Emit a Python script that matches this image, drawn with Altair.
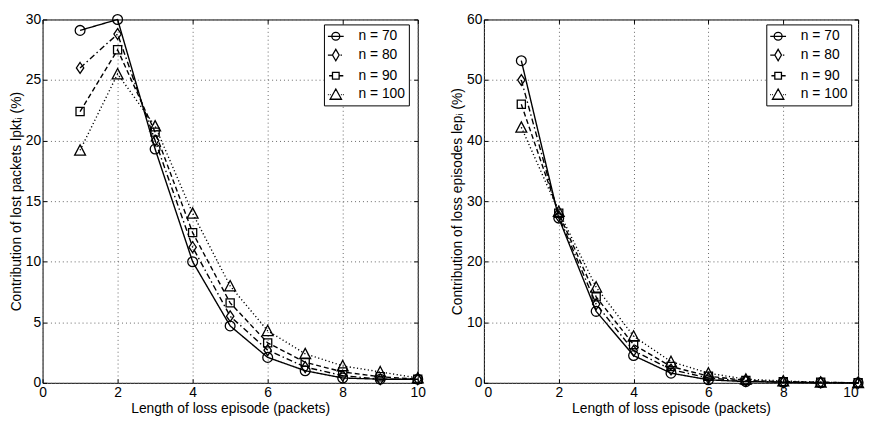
import altair as alt
import pandas as pd

# ---------------- data ----------------
episode_len = [1, 2, 3, 4, 5, 6, 7, 8, 9, 10]
series_labels = ["n = 70", "n = 80", "n = 90", "n = 100"]

lpkt_n70 = [29.1, 30.0, 19.3, 10.0, 4.7, 2.1, 1.0, 0.4, 0.3, 0.3]
lpkt_n80 = [26.0, 28.8, 20.0, 11.2, 5.5, 2.7, 1.3, 0.6, 0.3, 0.3]
lpkt_n90 = [22.4, 27.5, 20.7, 12.4, 6.6, 3.3, 1.7, 0.9, 0.5, 0.3]
lpkt_n100 = [19.2, 25.5, 21.2, 14.0, 8.0, 4.3, 2.4, 1.4, 0.9, 0.4]

lep_n70 = [53.2, 27.2, 11.8, 4.5, 1.6, 0.5, 0.2, 0.1, 0.0, 0.0]
lep_n80 = [50.0, 27.5, 13.0, 5.3, 2.2, 0.8, 0.3, 0.1, 0.05, 0.0]
lep_n90 = [46.0, 28.0, 14.2, 6.3, 2.7, 1.1, 0.4, 0.2, 0.1, 0.0]
lep_n100 = [42.2, 28.3, 15.8, 7.7, 3.5, 1.6, 0.6, 0.3, 0.1, 0.0]

x_ticks = [0, 2, 4, 6, 8, 10]
left_y_ticks = [0, 5, 10, 15, 20, 25, 30]
right_y_ticks = [0, 10, 20, 30, 40, 50, 60]

x_title = "Length of loss episode (packets)"
left_y_title = "Contribution of lost packets lpktᵢ (%)"
right_y_title = "Contribution of loss episodes lepᵢ (%)"

# ---------------- styles ----------------
FONT = "Liberation Sans, Arial, Helvetica, sans-serif"
FS = 14
dash_patterns = [[1, 0], [6, 3, 1.5, 3], [5, 3], [1.2, 2.5]]
marker_paths = [
    "M-0.9,0A0.9,0.9 0 1,1 0.9,0A0.9,0.9 0 1,1 -0.9,0Z",
    "M0,-1L0.68,0L0,1L-0.68,0Z",
    "M-0.75,-0.75H0.75V0.75H-0.75Z",
    "M0,-1L1,0.9L-1,0.9Z",
]
legend_paths = [
    "M-1,0H1M-0.5,0A0.5,0.5 0 1,1 0.5,0A0.5,0.5 0 1,1 -0.5,0Z",
    "M-1,0H-0.45M0.6,0H0.78M0,-0.72L0.42,0L0,0.72L-0.42,0Z",
    "M-0.85,0H-0.42M0.42,0H0.95M-0.42,-0.42H0.42V0.42H-0.42Z",
    "M-1,0H-0.9M-0.75,0H-0.65M0.65,0H0.75M0.9,0H1M0,-0.7L0.72,0.6L-0.72,0.6Z",
]


def long_df(series):
    rows = []
    for lab, vals in zip(series_labels, series):
        for x, v in zip(episode_len, vals):
            rows.append({"x": x, "y": v, "n": lab})
    return pd.DataFrame(rows)


def panel(df, ymax, yticks, ytitle, width, height, legend_x, legend_y, flush):
    xscale = alt.Scale(domain=[0, 10], nice=False, zero=False)
    yscale = alt.Scale(domain=[0, ymax], nice=False)
    text_style = dict(labelFont=FONT, titleFont=FONT, labelFontSize=FS, titleFontSize=FS,
                      titleFontWeight="normal", labelColor="black", titleColor="black")
    main_x = alt.X("x:Q", scale=xscale, axis=alt.Axis(
        values=x_ticks, title=x_title, grid=True, gridDash=[1, 3],
        gridColor="#666666", gridWidth=1, domain=False, ticks=True,
        tickSize=4, offset=-4, tickColor="black", labelPadding=3,
        titlePadding=2, labelFlush=flush, **text_style))
    main_y = alt.Y("y:Q", scale=yscale, axis=alt.Axis(
        values=yticks, title=ytitle, grid=True, gridDash=[1, 3],
        gridColor="#666666", gridWidth=1, domain=False, ticks=True,
        tickSize=4, offset=-4, tickColor="black", labelPadding=2,
        titlePadding=2, **text_style))
    top_x = alt.X("x:Q", scale=xscale, axis=alt.Axis(
        orient="top", values=x_ticks, title=None, labels=False, grid=False,
        domain=False, tickSize=4, offset=-4, tickColor="black"))
    right_y = alt.Y("y:Q", scale=yscale, axis=alt.Axis(
        orient="right", values=yticks, title=None, labels=False, grid=False,
        domain=False, tickSize=4, offset=-4, tickColor="black"))

    base = alt.Chart(df)
    lines = base.mark_line(color="black", strokeWidth=1.4).encode(
        x=main_x, y=main_y,
        strokeDash=alt.StrokeDash("n:N", scale=alt.Scale(domain=series_labels, range=dash_patterns), legend=None),
        order="x:Q",
    )
    points = base.mark_point(filled=False, color="black", size=121, strokeWidth=1.3, opacity=1).encode(
        x=top_x, y=right_y,
        shape=alt.Shape("n:N", scale=alt.Scale(domain=series_labels, range=marker_paths), legend=None),
    )
    leg = base.transform_filter("datum.x < 0").mark_point(filled=False, color="black", strokeWidth=1.3).encode(
        x=alt.X("x:Q", scale=xscale, axis=None),
        y=alt.Y("y:Q", scale=yscale, axis=None),
        shape=alt.Shape("n:N", scale=alt.Scale(domain=series_labels, range=legend_paths), legend=alt.Legend(
            title=None, orient="none", legendX=legend_x, legendY=legend_y,
            strokeColor="black", fillColor="white", padding=3, cornerRadius=0,
            symbolSize=256, symbolStrokeWidth=1.3, symbolStrokeColor="black",
            symbolFillColor="transparent", symbolOpacity=1, labelOffset=14,
            rowPadding=3, labelFontSize=FS, labelFont=FONT, labelColor="black")),
    )
    return alt.layer(lines, points, leg).resolve_scale(shape="independent").resolve_axis(
        x="independent", y="independent").properties(width=width, height=height)


left = panel(long_df([lpkt_n70, lpkt_n80, lpkt_n90, lpkt_n100]), 30, left_y_ticks, left_y_title,
             380, 368, 285, 5, False)
right = panel(long_df([lep_n70, lep_n80, lep_n90, lep_n100]), 60, right_y_ticks, right_y_title,
              379, 368, 286, 5, True)

chart = alt.hconcat(left, right, spacing=23).resolve_scale(
    shape="independent", strokeDash="independent").resolve_legend(shape="independent").configure(
    background="white", padding={"left": 0, "top": 0, "right": 0, "bottom": 0}
).configure_view(stroke="black", strokeWidth=1)

chart.save("out.html", embed_options={"renderer": "svg", "actions": False})
